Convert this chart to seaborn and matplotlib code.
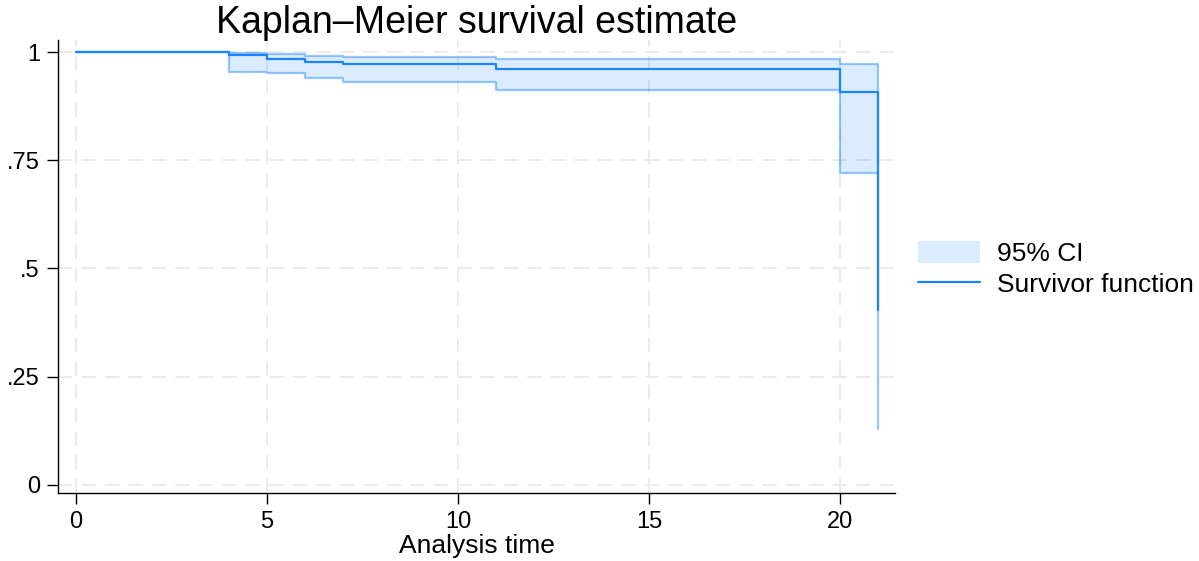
import matplotlib
matplotlib.use("Agg")
import matplotlib.pyplot as plt
import seaborn as sns
import pandas as pd
from matplotlib.patches import Patch
from matplotlib.lines import Line2D

# Data
times = [0, 4, 5, 6, 7, 11, 20, 21]
survival = [1.0, 0.993, 0.985, 0.978, 0.972, 0.962, 0.908, 0.404]
lower_ci = [1.0, 0.955, 0.951, 0.940, 0.930, 0.913, 0.721, 0.129]
upper_ci = [1.0, 0.997, 0.995, 0.991, 0.988, 0.984, 0.972, 0.740]

x_ticks = [0, 5, 10, 15, 20]
y_ticks = [0, 0.25, 0.5, 0.75, 1]
y_tick_labels = ["0", ".25", ".5", ".75", "1"]

title = "Kaplan\u2013Meier survival estimate"
x_label = "Analysis time"
legend_labels = ["95% CI", "Survivor function"]

sns.set_theme(style="white")
plt.rcParams["font.family"] = ["Liberation Sans", "DejaVu Sans"]
plt.rcParams["text.color"] = "black"
plt.rcParams["axes.labelcolor"] = "black"
plt.rcParams["xtick.color"] = "black"
plt.rcParams["ytick.color"] = "black"

main_color = "#1a85ff"
fill_color = (26 / 255, 133 / 255, 255 / 255, 0.15)
ci_line_color = (26 / 255, 133 / 255, 255 / 255, 0.45)

df = pd.DataFrame({"time": times, "surv": survival, "lo": lower_ci, "hi": upper_ci})

fig = plt.figure(figsize=(11.99, 5.61), dpi=100)
ax = fig.add_axes([0.0484, 0.1218, 0.698, 0.8069])

ax.fill_between(df["time"], df["lo"], df["hi"], step="post", color=fill_color, linewidth=0, zorder=2)
sns.lineplot(data=df, x="time", y="lo", drawstyle="steps-post", color=ci_line_color, linewidth=1.6, ax=ax, zorder=3)
sns.lineplot(data=df, x="time", y="hi", drawstyle="steps-post", color=ci_line_color, linewidth=1.6, ax=ax, zorder=3)
sns.lineplot(data=df, x="time", y="surv", drawstyle="steps-post", color=main_color, linewidth=1.6, ax=ax, zorder=4)

ax.set_xlim(-0.47, 21.44)
ax.set_ylim(-0.018, 1.028)
ax.set_xticks(x_ticks)
ax.set_yticks(y_ticks)
ax.set_yticklabels(y_tick_labels)
ax.tick_params(axis="both", which="major", direction="out", length=8, width=1,
               color="black", labelcolor="black", labelsize=17, pad=5, left=True, bottom=True)

ax.grid(True, color="#e9e9e9", linestyle=(0, (8, 5)), linewidth=1.3)
ax.set_axisbelow(True)
for s in ["top", "right"]:
    ax.spines[s].set_visible(False)
for s in ["left", "bottom"]:
    ax.spines[s].set_color("black")
    ax.spines[s].set_linewidth(1.0)

ax.set_xlabel(x_label, fontsize=19, labelpad=1, color="black")
ax.set_ylabel("")
ax.set_title(title, fontsize=27, pad=5, color="black")

handles = [Patch(facecolor=fill_color, edgecolor="none"),
           Line2D([0], [0], color=main_color, linewidth=1.6)]
fig.legend(handles, legend_labels, loc="center left", bbox_to_anchor=(0.7656, 0.5205),
           frameon=False, fontsize=19, handlelength=2.35, handleheight=0.9,
           handletextpad=0.64, labelspacing=0.25, borderpad=0, borderaxespad=0,
           labelcolor="black")

fig.savefig("out.png", dpi=100)
